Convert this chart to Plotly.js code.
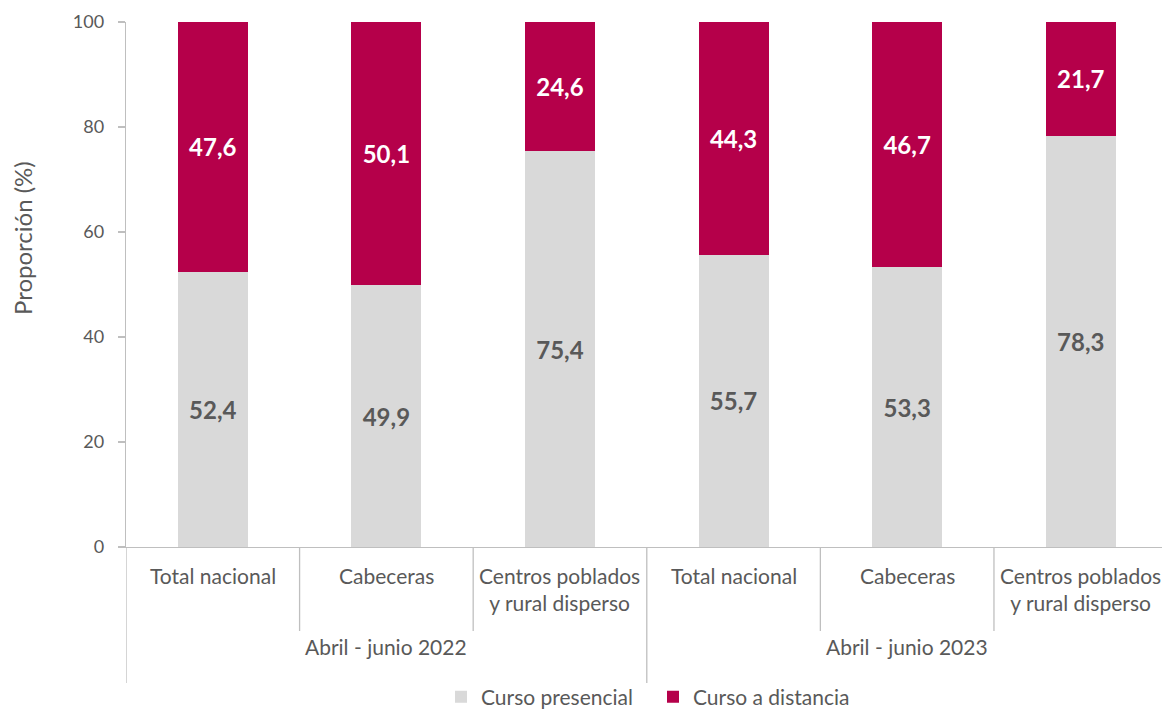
<!DOCTYPE html>
<html>
<head>
<meta charset="utf-8">
<script src="https://cdn.plot.ly/plotly-3.0.1.min.js"></script>
<style>html,body{margin:0;padding:0;background:#fff;}#chart{width:1162px;height:709px;}</style>
</head>
<body>
<div id="chart"></div>
<script>
// Data
var categories = ["Total nacional", "Cabeceras", "Centros poblados<br>y rural disperso",
                  "Total nacional", "Cabeceras", "Centros poblados<br>y rural disperso"];
var periods = ["Abril - junio 2022", "Abril - junio 2023"];
var presencial = [52.4, 49.9, 75.4, 55.7, 53.3, 78.3];
var distancia  = [47.6, 50.1, 24.6, 44.3, 46.7, 21.7];
var seriesNames = ["Curso presencial", "Curso a distancia"];

var xpos = categories.map(function(c, i){ return i; });
var FONT = "Lato, 'Open Sans', sans-serif";
var GRAY_TXT = "#595959";
var LINE = "#BFBFBF";

var traces = [
  {
    type: "bar", name: seriesNames[0], x: xpos, y: presencial,
    marker: {color: "#D9D9D9"}, width: 0.403,
    texttemplate: "%{y:.1f}", textposition: "inside", insidetextanchor: "middle",
    textfont: {family: FONT, size: 24, color: GRAY_TXT, weight: "bold"},
    constraintext: "none", hoverinfo: "skip"
  },
  {
    type: "bar", name: seriesNames[1], x: xpos, y: distancia,
    marker: {color: "#B5004A"}, width: 0.403,
    texttemplate: "%{y:.1f}", textposition: "inside", insidetextanchor: "middle",
    textfont: {family: FONT, size: 24, color: "#FFFFFF", weight: "bold"},
    constraintext: "none", hoverinfo: "skip"
  }
];

var plotH = 525;
function py(pix){ return (547 - pix) / plotH; }

var annotations = [];
categories.forEach(function(c, i){
  var twoLine = c.indexOf("<br>") >= 0;
  annotations.push({
    x: i, xref: "x", y: twoLine ? py(589) : py(575), yref: "paper",
    text: c, showarrow: false, xanchor: "center", yanchor: "middle",
    font: {family: FONT, size: 21, color: GRAY_TXT}, align: "center"
  });
});
periods.forEach(function(p, g){
  annotations.push({
    x: g * 3 + 1, xref: "x", y: py(646), yref: "paper",
    text: p, showarrow: false, xanchor: "center", yanchor: "middle",
    font: {family: FONT, size: 21, color: GRAY_TXT}
  });
});
annotations.push({
  x: (22 - 126) / 1036, xref: "paper", y: py(238), yref: "paper",
  text: "Proporción (%)", showarrow: false, textangle: -90,
  xanchor: "center", yanchor: "middle",
  font: {family: FONT, size: 24, color: GRAY_TXT}
});

var shapes = [];
[0.5, 1.5, 3.5, 4.5].forEach(function(v){
  shapes.push({type: "line", xref: "x", yref: "paper", x0: v, x1: v, y0: 0, y1: py(631),
               line: {color: LINE, width: 1.3}});
});
[-0.5, 2.5].forEach(function(v){
  shapes.push({type: "line", xref: "x", yref: "paper", x0: v, x1: v, y0: 0, y1: py(683),
               line: {color: LINE, width: 1.3}});
});

var layout = {
  width: 1162, height: 709,
  margin: {l: 126, r: 0, t: 22, b: 162, autoexpand: false},
  paper_bgcolor: "#fff", plot_bgcolor: "#fff",
  barmode: "stack",
  separators: ",.",
  font: {family: FONT, color: GRAY_TXT},
  xaxis: {
    range: [-0.5, 5.468], showticklabels: false, ticks: "", showgrid: false,
    zeroline: false, showline: true, linecolor: LINE, linewidth: 1.3, fixedrange: true
  },
  yaxis: {
    range: [0, 100], dtick: 20, tick0: 0, ticks: "outside", ticklen: 7, tickcolor: LINE,
    tickwidth: 1.3, showline: true, linecolor: LINE, linewidth: 1.3, showgrid: false,
    zeroline: false, tickfont: {family: FONT, size: 18, color: GRAY_TXT}, fixedrange: true,
    ticklabelstandoff: 10
  },
  showlegend: true,
  legend: {
    orientation: "h", x: (441 - 126) / 1036, xanchor: "left", y: py(697), yanchor: "middle",
    font: {family: FONT, size: 21, color: GRAY_TXT}, itemwidth: 30, entrywidth: 167,
    traceorder: "normal", bgcolor: "rgba(0,0,0,0)"
  },
  annotations: annotations,
  shapes: shapes
};

Plotly.newPlot("chart", traces, layout, {displayModeBar: false, staticPlot: true});
</script>
</body>
</html>
